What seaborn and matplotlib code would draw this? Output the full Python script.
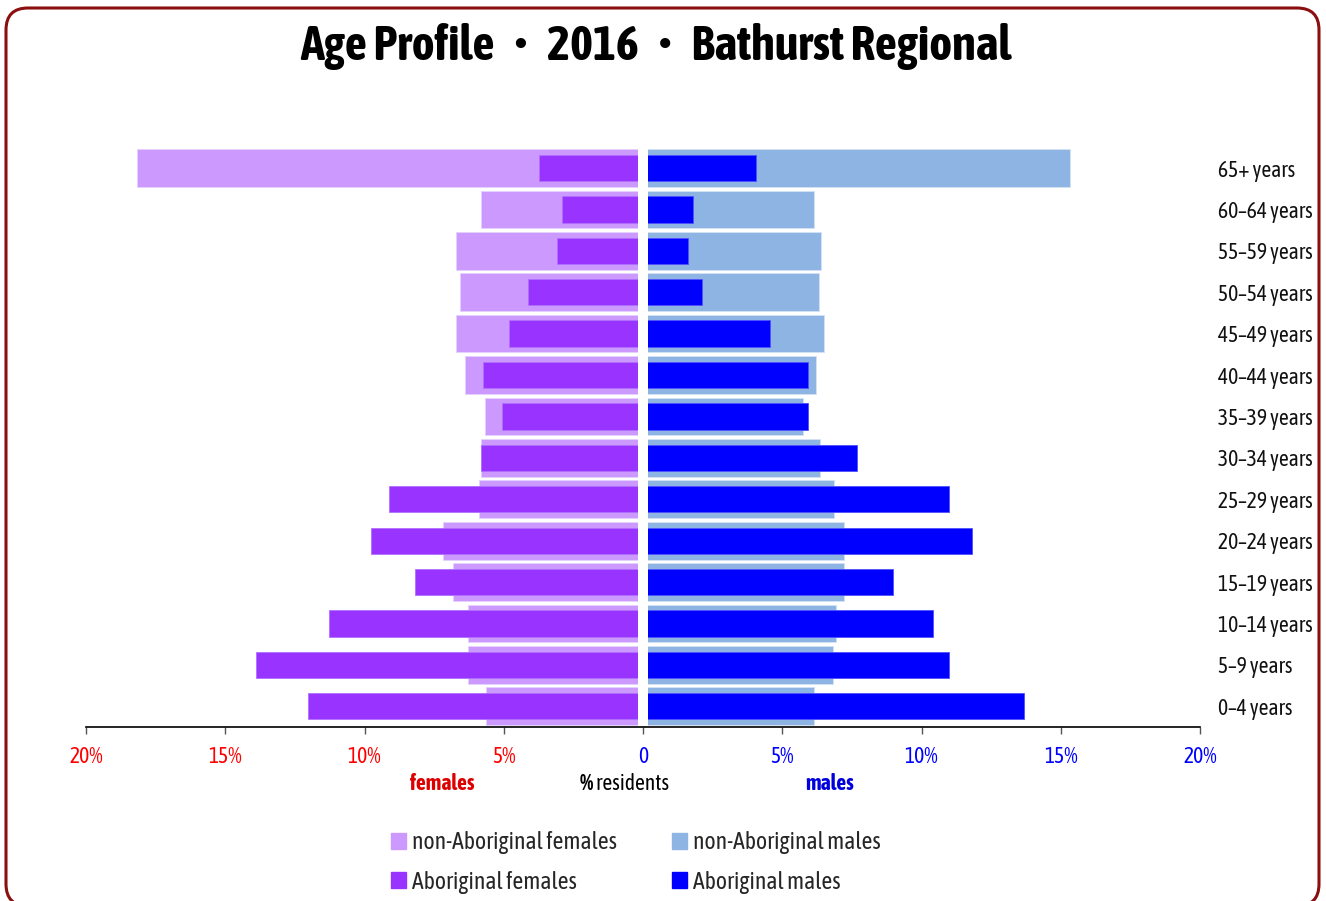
import matplotlib
matplotlib.use("Agg")
import matplotlib.pyplot as plt
from matplotlib import font_manager
from matplotlib.patches import FancyBboxPatch, Patch
import seaborn as sns

# data (% of residents in each group)
ages = ['65+ years', '60–64 years', '55–59 years', '50–54 years', '45–49 years',
        '40–44 years', '35–39 years', '30–34 years', '25–29 years', '20–24 years',
        '15–19 years', '10–14 years', '5–9 years', '0–4 years']
non_abo_females = [18.17, 5.80, 6.72, 6.57, 6.71, 6.39, 5.66,
                   5.81, 5.88, 7.17, 6.84, 6.28, 6.29, 5.64]
abo_females = [3.75, 2.90, 3.08, 4.12, 4.80, 5.73, 5.07,
               5.83, 9.11, 9.77, 8.18, 11.27, 13.91, 12.03]
non_abo_males = [15.34, 6.13, 6.39, 6.32, 6.50, 6.22, 5.73,
                 6.36, 6.85, 7.22, 7.21, 6.93, 6.81, 6.13]
abo_males = [4.06, 1.78, 1.60, 2.13, 4.57, 5.92, 5.92,
             7.68, 10.99, 11.82, 8.97, 10.40, 10.99, 13.69]
x_ticks = [-20, -15, -10, -5, 0, 5, 10, 15, 20]
x_labels = ['20%', '15%', '10%', '5%', '0', '5%', '10%', '15%', '20%']

# colours
c_nf = '#CC99FF'
c_af = '#9933FF'
c_nm = '#8EB4E3'
c_am = '#0000FF'

sns.set_theme(style='white')


def wnum(w):
    if isinstance(w, str):
        return font_manager.weight_dict.get(w, 400)
    return w


# pick a narrow sans that also has a bold face, else plain Liberation Sans scaled down
fams = {}
for f in font_manager.fontManager.ttflist:
    fams.setdefault(f.name, set()).add(wnum(f.weight))
narrow = [n for n in sorted(fams) if ('Narrow' in n or 'Condensed' in n)
          and 'Light' not in n and 'Thin' not in n]
narrow_bold = [n for n in narrow if max(fams[n]) >= 600 and min(fams[n]) <= 450]
if 'Liberation Sans Narrow' in fams:
    base, k = 'Liberation Sans Narrow', 1.0
elif narrow_bold:
    base, k = narrow_bold[0], 1.0
elif narrow:
    base, k = narrow[0], 1.0
else:
    base, k = 'Liberation Sans', 0.82
plt.rcParams['font.family'] = [base, 'DejaVu Sans']

fig = plt.figure(figsize=(13.26, 9.01), dpi=100)

# rounded frame in pixel coordinates
bg = fig.add_axes([0, 0, 1, 1], zorder=-5)
bg.set_xlim(0, 1326)
bg.set_ylim(901, 0)
bg.axis('off')
bg.add_patch(FancyBboxPatch((6, 8), 1313, 898, boxstyle='round,pad=0,rounding_size=22',
                            fc='white', ec='#8B0F0F', lw=2.2))

ax = fig.add_axes([86 / 1326, 1 - 727 / 901, 1114 / 1326, 579.7 / 901])
ax.patch.set_alpha(0)

neg_nf = [-v for v in non_abo_females]
neg_af = [-v for v in abo_females]
kw = dict(order=ages, orient='h', ax=ax, saturation=1, errorbar=None)
sns.barplot(x=neg_nf, y=ages, color=c_nf, width=0.91, edgecolor='#E4D2FF', linewidth=0.6, **kw)
sns.barplot(x=non_abo_males, y=ages, color=c_nm, width=0.91, edgecolor='#D4E2F4', linewidth=0.6, **kw)
sns.barplot(x=neg_af, y=ages, color=c_af, width=0.635, edgecolor='#B070FF', linewidth=0.6, **kw)
sns.barplot(x=abo_males, y=ages, color=c_am, width=0.635, edgecolor='#5050FF', linewidth=0.6, **kw)

# white gap down the centre
ax.axvspan(-0.18, 0.18, color='white', zorder=2, lw=0)

ax.set_xlim(-20, 20)
ax.set_ylim(13.5, -0.5)
ax.set_xlabel('')
ax.set_ylabel('')
for s in ['top', 'right', 'left']:
    ax.spines[s].set_visible(False)
ax.spines['bottom'].set_color('black')
ax.spines['bottom'].set_linewidth(1.2)
ax.spines['bottom'].set_zorder(3)

ax.set_xticks(x_ticks)
ax.set_xticklabels(x_labels)
ax.tick_params(axis='x', direction='out', length=5, width=1, color='#555555',
               labelsize=15.5 * k, pad=9, bottom=True)
for lab, v in zip(ax.get_xticklabels(), x_ticks):
    lab.set_color('#FF0000' if v < 0 else '#0000FF')

ax.yaxis.tick_right()
ax.tick_params(axis='y', length=0, pad=13, labelsize=15.5 * k, labelcolor='#111111')

# axis captions
cap_y = 1 - 784 / 901
fig.text(442 / 1326, cap_y, 'females', color='#DD0000', fontweight='bold',
         fontsize=15.5 * k, ha='center', va='center')
fig.text(593 / 1326, cap_y, '%', color='black', fontweight='bold',
         fontsize=15.5 * k, ha='right', va='center')
fig.text(593 / 1326, cap_y, ' residents', color='black',
         fontsize=15.5 * k, ha='left', va='center')
fig.text(830 / 1326, cap_y, 'males', color='#0000DD', fontweight='bold',
         fontsize=15.5 * k, ha='center', va='center')

# title
fig.text(656 / 1326, 1 - 46 / 901, 'Age Profile   •   2016   •   Bathurst Regional',
         fontsize=35 * k, fontweight='bold', ha='center', va='center', color='black')

# legend
handles = [Patch(color=c_nf, label='non-Aboriginal females'),
           Patch(color=c_af, label='Aboriginal females'),
           Patch(color=c_nm, label='non-Aboriginal males'),
           Patch(color=c_am, label='Aboriginal males')]
leg_fs = 17 * k
fig.legend(handles=handles, ncol=2, loc='upper left', bbox_to_anchor=(391 / 1326, 1 - 831 / 901),
           frameon=False, fontsize=leg_fs, handlelength=0.65, handleheight=0.65,
           handletextpad=0.25, columnspacing=2.3, labelspacing=0.7, borderpad=0,
           borderaxespad=0)

fig.savefig('out.png', dpi=100)
